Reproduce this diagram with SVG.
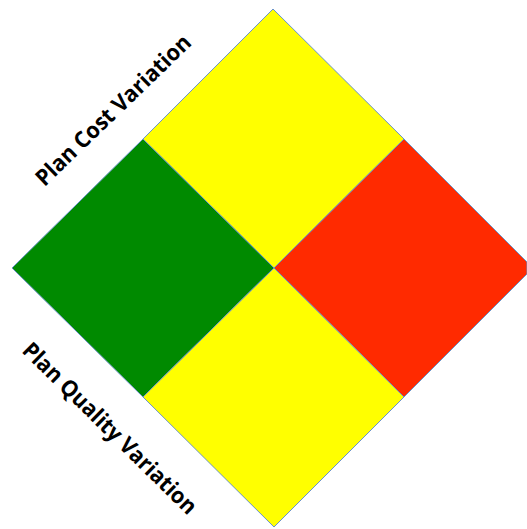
<svg xmlns="http://www.w3.org/2000/svg" width="527" height="529" viewBox="0 0 527 529">
<style>
.q{stroke:#6a93c8;stroke-width:1;stroke-linejoin:miter}
.y{fill:#ffff00}.g{fill:#008a00}.r{fill:#ff2a00}
.t{font-family:"Open Sans","Liberation Sans",sans-serif;font-weight:bold;font-size:22.5px;fill:#000}
</style>
<rect width="527" height="529" fill="#fff"/>
<g id="top"><polygon class="q y" points="273,9 404,139 274,268 143,139"/></g>
<g id="left"><polygon class="q g" points="143,139 274,268 143,397 12,268"/></g>
<g id="right"><polygon class="q r" points="404,139 527,262 527,274 404,397 274,268"/></g>
<g id="bottom"><polygon class="q y" points="274,268 404,397 274,527 143,397"/></g>
<g id="labels">
<text class="t" transform="translate(113,110) rotate(-44)" y="8" text-anchor="middle" textLength="206" lengthAdjust="spacingAndGlyphs">Plan Cost Variation</text>
<text class="t" transform="translate(110,428) rotate(44.5)" y="8" text-anchor="middle" textLength="234" lengthAdjust="spacingAndGlyphs">Plan Quality Variation</text>
</g>
</svg>
